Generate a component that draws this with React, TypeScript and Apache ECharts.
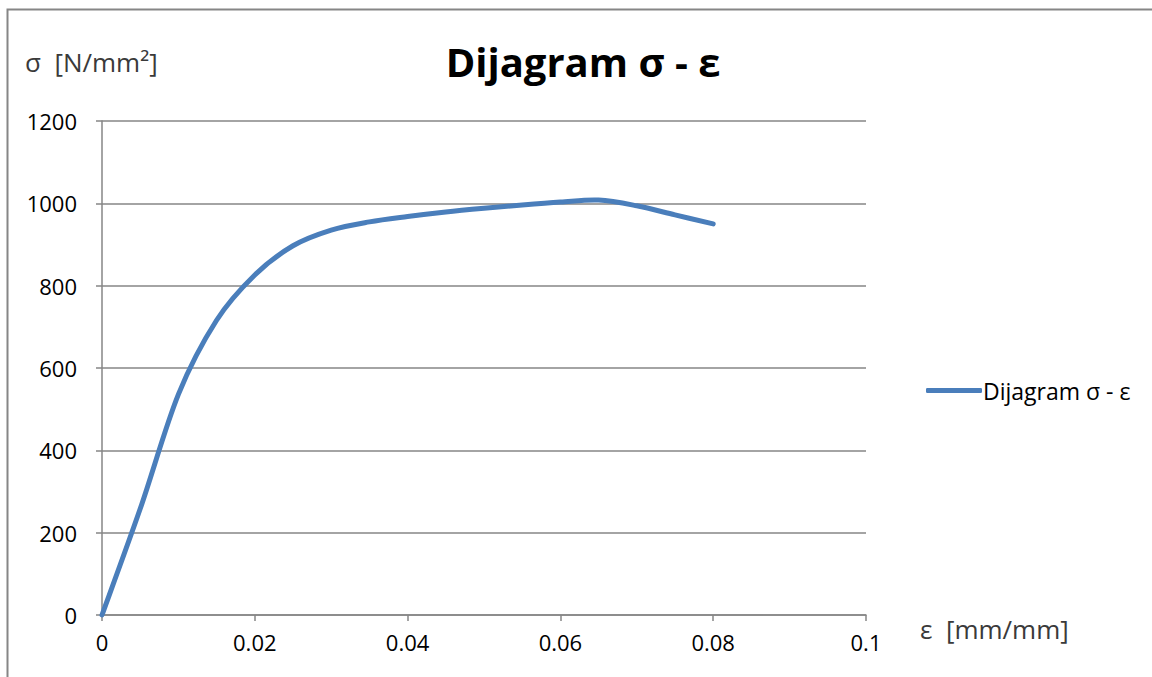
import React, { useEffect, useRef } from "react";
import * as echarts from "echarts";

const strain: number[] = [0, 0.005, 0.01, 0.015, 0.02, 0.025, 0.03, 0.035, 0.04, 0.045, 0.05, 0.055, 0.06, 0.065, 0.07, 0.075, 0.08];
const stress: number[] = [0, 258, 536, 716, 826, 897, 935, 955, 968, 979, 988, 996, 1003, 1008, 994, 972, 950];
const seriesName = "Dijagram σ - ε";
const titleText = "Dijagram σ - ε";
const yAxisTitle = "σ  [N/mm²]";
const xAxisTitle = "ε  [mm/mm]";

const FONT = "'Open Sans', 'DejaVu Sans', sans-serif";
const GRAY = "#868686";
const LINE = "#4a7ebb";

export default function App() {
  const ref = useRef<HTMLDivElement>(null);
  useEffect(() => {
    document.body.style.margin = "0";
    const chart = echarts.init(ref.current!, null, { renderer: "svg" });
    const data = strain.map((e, i) => [e, stress[i]]);
    const renderItem = (params: any, api: any) => {
      if (params.dataIndex !== 0) return null;
      const pts: number[][] = strain.map((e, i) => api.coord([e, stress[i]]));
      let d = `M${pts[0][0]} ${pts[0][1]}`;
      for (let i = 0; i < pts.length - 1; i++) {
        const p0 = pts[i - 1] || pts[i];
        const p1 = pts[i];
        const p2 = pts[i + 1];
        const p3 = pts[i + 2] || pts[i + 1];
        const c1x = p1[0] + (p2[0] - p0[0]) / 6;
        const c1y = p1[1] + (p2[1] - p0[1]) / 6;
        const c2x = p2[0] - (p3[0] - p1[0]) / 6;
        const c2y = p2[1] - (p3[1] - p1[1]) / 6;
        d += ` C${c1x} ${c1y} ${c2x} ${c2y} ${p2[0]} ${p2[1]}`;
      }
      return {
        type: "path",
        shape: { pathData: d },
        style: { fill: "none", stroke: LINE, lineWidth: 5, lineCap: "round", lineJoin: "round" },
      };
    };
    chart.setOption({
      animation: false,
      backgroundColor: "#ffffff",
      grid: { left: 102, right: 286, top: 121, bottom: 62, containLabel: false },
      legend: {
        data: [{ name: seriesName, icon: "roundRect", itemStyle: { color: LINE } }],
        left: 921,
        top: 374,
        itemWidth: 56,
        itemHeight: 5,
        textStyle: { fontFamily: FONT, fontSize: 23, color: "#000", padding: [0, 0, 0, -4] },
      },
      xAxis: {
        type: "value",
        min: 0,
        max: 0.1,
        interval: 0.02,
        axisLine: { show: true, onZero: false, lineStyle: { color: GRAY, width: 1.5 } },
        axisTick: { show: true, inside: false, length: 6, lineStyle: { color: GRAY, width: 1.5 } },
        splitLine: { show: false },
        axisLabel: {
          margin: 16,
          fontFamily: FONT,
          fontSize: 22,
          color: "#000",
          formatter: (v: number) => String(+v.toFixed(2)),
        },
      },
      yAxis: {
        type: "value",
        min: 0,
        max: 1200,
        interval: 200,
        axisLine: { show: true, lineStyle: { color: GRAY, width: 1.5 } },
        axisTick: { show: true, inside: false, length: 6, lineStyle: { color: GRAY, width: 1.5 } },
        splitLine: { show: true, lineStyle: { color: GRAY, width: 1.5 } },
        axisLabel: {
          margin: 25,
          fontFamily: FONT,
          fontSize: 22,
          color: "#000",
          formatter: (v: number) => String(v),
        },
      },
      series: [
        {
          name: seriesName,
          type: "custom",
          data,
          encode: { x: 0, y: 1 },
          renderItem,
          itemStyle: { color: LINE },
          z: 5,
        },
      ],
      graphic: [
        {
          type: "rect",
          shape: { x: 7.5, y: 9.5, width: 1300, height: 900 },
          style: { fill: "none", stroke: GRAY, lineWidth: 2 },
          silent: true,
          z: 10,
        },
        {
          type: "text",
          x: 583,
          y: 61,
          style: {
            text: titleText,
            fontFamily: FONT,
            fontWeight: "bold",
            fontSize: 40,
            fill: "#000",
            align: "center",
            verticalAlign: "middle",
          },
        },
        {
          type: "text",
          x: 25,
          y: 62,
          style: {
            text: yAxisTitle,
            fontFamily: FONT,
            fontSize: 26,
            fill: "#3a3a3a",
            align: "left",
            verticalAlign: "middle",
          },
        },
        {
          type: "text",
          x: 920,
          y: 629,
          style: {
            text: xAxisTitle,
            fontFamily: FONT,
            fontSize: 26,
            fill: "#3a3a3a",
            align: "left",
            verticalAlign: "middle",
          },
        },
      ],
    });
    return () => chart.dispose();
  }, []);
  return <div ref={ref} style={{ width: 1152, height: 677 }} />;
}
